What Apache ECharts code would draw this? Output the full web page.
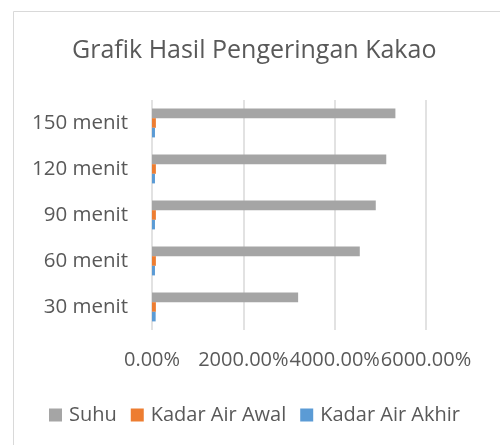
<!DOCTYPE html>
<html>
<head>
<meta charset="utf-8">
<script src="https://cdn.jsdelivr.net/npm/echarts@6/dist/echarts.min.js"></script>
<style>
  html, body { margin: 0; padding: 0; background: #fff; }
  #chart { width: 500px; height: 445px; }
</style>
</head>
<body>
<div id="chart"></div>
<script>
// categories, bottom to top as drawn
var categories = ['30 menit', '60 menit', '90 menit', '120 menit', '150 menit'];
// values are fractions shown as percent (1 = 100%)
var suhu = [32, 45.5, 49, 51.3, 53.3];
var kadarAwal = [0.85, 0.85, 0.85, 0.85, 0.85];
var kadarAkhir = [0.8, 0.65, 0.65, 0.65, 0.65];
var seriesNames = ['Suhu', 'Kadar Air Awal', 'Kadar Air Akhir'];
var colors = ['#a5a5a5', '#ed7d31', '#5b9bd5'];

var font = 'Open Sans';
var textColor = '#595959';

var myChart = echarts.init(document.getElementById('chart'));

function barSeries(name, data, color) {
    return {
        name: name,
        type: 'bar',
        data: data,
        barWidth: 9.6,
        barGap: '0%',
        itemStyle: { color: color }
    };
}

var option = {
    animation: false,
    backgroundColor: '#fff',
    graphic: [{
        type: 'rect',
        shape: { x: 13.5, y: 11.5, width: 520, height: 460 },
        style: { fill: 'none', stroke: '#d9d9d9', lineWidth: 1 },
        silent: true
    }],
    title: {
        text: 'Grafik Hasil Pengeringan Kakao',
        left: 72,
        top: 38,
        padding: 0,
        textStyle: { fontFamily: font, fontSize: 25, fontWeight: 'normal', color: textColor }
    },
    legend: {
        top: 405,
        left: 49,
        padding: 0,
        itemWidth: 13,
        itemHeight: 13,
        itemGap: 14,
        icon: 'rect',
        data: seriesNames,
        textStyle: { fontFamily: font, fontSize: 20, color: textColor, padding: [0, 0, 0, 2] }
    },
    grid: { left: 152, right: 74, top: 100, bottom: 115 },
    xAxis: {
        type: 'value',
        min: 0,
        max: 60,
        interval: 20,
        axisLine: { show: false },
        axisTick: { show: false },
        splitLine: { lineStyle: { color: '#d9d9d9', width: 1.5 } },
        axisLabel: {
            fontFamily: font, fontSize: 20, color: textColor, margin: 20,
            formatter: function (v) { return (v * 100).toFixed(2) + '%'; }
        }
    },
    yAxis: {
        type: 'category',
        data: categories,
        axisLine: { show: false },
        axisTick: { show: false },
        axisLabel: { fontFamily: font, fontSize: 20.5, color: textColor, margin: 24 }
    },
    series: [
        barSeries(seriesNames[0], suhu, colors[0]),
        barSeries(seriesNames[1], kadarAwal, colors[1]),
        barSeries(seriesNames[2], kadarAkhir, colors[2])
    ]
};

myChart.setOption(option);
</script>
</body>
</html>
